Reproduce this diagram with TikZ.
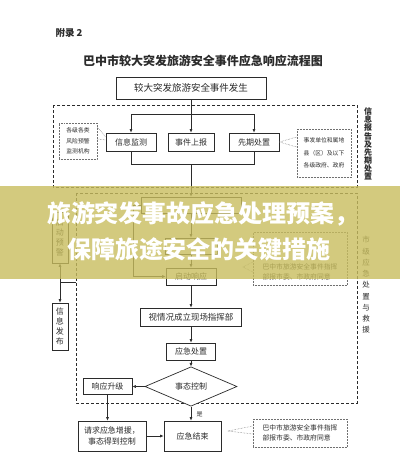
\documentclass[tikz,border=0pt]{standalone}
\usepackage{fontspec}
\setmainfont{Noto Sans CJK SC}
\usetikzlibrary{arrows.meta,positioning,shapes.geometric}
\definecolor{FlowInk}{HTML}{2B2B2B}
\definecolor{FlowGrey}{HTML}{707070}
\definecolor{BannerGold}{HTML}{C8BD5E}

\begin{document}
\begin{tikzpicture}[x=1pt, y=-1pt, font=\fontsize{8}{9.5}\selectfont,
  stepbox/.style={draw=FlowInk, line width=0.7pt, fill=white, inner sep=0pt, align=center, text=FlowInk},
  phase/.style={draw=FlowInk, line width=0.6pt, dash pattern=on 3pt off 2pt},
  memo/.style={draw=FlowGrey, line width=0.5pt, densely dotted, align=left, text=FlowInk, inner sep=0pt, font=\fontsize{6.8}{10}\selectfont},
  memolink/.style={draw=FlowGrey, line width=0.5pt, densely dotted},
  flow/.style={-{Latex[length=3.5pt,width=3pt]}, line width=0.6pt, draw=FlowInk},
  link/.style={line width=0.6pt, draw=FlowInk},
  side/.style={align=center, text=FlowInk, inner sep=0pt}]
\fill[white] (0,0) rectangle (400,464);
\useasboundingbox (0,0) rectangle (400,464);

% heading
\node[anchor=west, text=FlowInk, font=\fontsize{9.5}{10}\selectfont\bfseries] (annex) at (52,33) {附录 2};
\node[text=FlowInk, font=\fontsize{12}{14}\selectfont\bfseries] (title) at (203,61) {巴中市较大突发旅游安全事件应急响应流程图};
\node[stepbox, minimum width=150pt, minimum height=22pt, font=\fontsize{9.5}{10}\selectfont] (occur) at (191,88) {较大突发旅游安全事件发生};

% information report and first response
\draw[phase] (53,105) rectangle (357,187);
\node[stepbox, minimum width=50pt, minimum height=18pt] (monitor) at (131,142) {信息监测};
\node[stepbox, minimum width=46pt, minimum height=18pt] (report) at (191,142) {事件上报};
\node[stepbox, minimum width=50pt, minimum height=18pt] (early) at (254,142) {先期处置};
\coordinate (split) at (191,114);
\coordinate (merge) at (191,164);
\draw[flow] (occur) -- (report);
\draw[flow] (split) -| (monitor);
\draw[flow] (split) -| (early);
\draw[link] (monitor) |- (merge);
\draw[link] (early) |- (merge);
\node[memo, align=center, minimum width=38pt, minimum height=36pt, font=\fontsize{5.8}{10.5}\selectfont] (watchers) at (78,141) {各级各类\\风险预警\\监测机构};
\draw[memolink] ([yshift=14pt]watchers.east) -- ([yshift=5pt]monitor.west);
\draw[memolink] ([yshift=2pt]watchers.east) -- ([yshift=2pt]monitor.west);
\node[memo, minimum width=54pt, minimum height=48pt, font=\fontsize{5.8}{12.5}\selectfont] (localgov) at (324,153) {事发单位和属地\\县（区）及以下\\各级政府、政府};
\draw[memolink] (early.east) -- ([yshift=16pt]localgov.west);
\draw[memolink] (early.east) -- ([yshift=6pt]localgov.west);
\node[side, font=\fontsize{8}{8.1}\selectfont\bfseries] (sideinfo) at (368,144) {信\\息\\报\\告\\及\\先\\期\\处\\置};

% city level response
\draw[phase] (76,193) rectangle (357,403);
\node[side, font=\fontsize{7.5}{11.25}\selectfont] (sidecity) at (366,285) {市\\级\\应\\急\\处\\置\\与\\救\\援};
\node[stepbox, minimum width=100pt, minimum height=16pt] (assess) at (191,205) {};
\node[stepbox, minimum width=52pt, minimum height=16pt] (decide) at (191,246) {};
\node[stepbox, minimum width=50pt, minimum height=17pt] (launch) at (191,276.5) {启动响应};
\coordinate (bypass) at (133,276.5);
\draw[flow] (merge) -- (assess);
\draw[flow] (assess) -- (decide);
\draw[flow] (decide) -- (launch);
\draw[flow] (assess.west) -| (bypass) -- (launch.west);
\node[stepbox, minimum width=16pt, minimum height=51pt, font=\fontsize{8}{10}\selectfont] (prewarn) at (60,237.5) {启\\动\\预\\警};
\node[stepbox, minimum width=16pt, minimum height=47pt, font=\fontsize{8}{10}\selectfont] (publish) at (60,326.5) {信\\息\\发\\布};
\coordinate (tap) at (60,282);
\coordinate (zonegate) at (76,282);
\draw[{Latex[length=3.5pt,width=3pt]}-{Latex[length=3.5pt,width=3pt]}, link] (prewarn) -- (publish);
\draw[link] (zonegate) -- (tap);
\node[memo, minimum width=94pt, minimum height=53pt] (cmdbox) at (300,258.5) {};
\node[align=left, text=FlowInk, inner sep=0pt, font=\fontsize{6.8}{10}\selectfont] (cmdtext) at (300,272) {巴中市旅游安全事件指挥\\部报市委、市政府同意};
\coordinate (cmdtip) at (243,267);
\draw[memolink] (cmdtip) -- ([yshift=-3.5pt]cmdbox.west);
\draw[memolink] (cmdtip) -- ([yshift=-13.5pt]cmdbox.west);
\node[stepbox, minimum width=101pt, minimum height=18pt, font=\fontsize{8.5}{10}\selectfont] (sitehq) at (191,317) {视情况成立现场指挥部};
\node[stepbox, minimum width=49pt, minimum height=17pt] (handle) at (191,351.5) {应急处置};
\node[stepbox, diamond, minimum width=92pt, minimum height=27pt] (control) at (191,386.5) {事态控制};
\node[stepbox, minimum width=49pt, minimum height=16pt] (escalate) at (107.5,386.5) {响应升级};
\draw[flow] (launch) -- (sitehq);
\draw[flow] (sitehq) -- (handle);
\draw[flow] (handle) -- (control);
\draw[flow] (control.west) -- (escalate.east);

% closing
\node[stepbox, minimum width=68pt, minimum height=30pt, font=\fontsize{8}{11}\selectfont] (request) at (112,436) {请求应急增援，\\事态得到控制};
\node[stepbox, minimum width=57pt, minimum height=30pt] (finish) at (192.5,436) {应急结束};
\draw[flow] (escalate.south) -- (escalate.south |- request.north);
\draw[flow] (request) -- (finish);
\draw[flow] (control.south) -- (control.south |- finish.north) node[pos=0.55, right=2pt, text=FlowInk, font=\fontsize{6}{6}\selectfont] (yes) {是};
\node[memo, minimum width=94pt, minimum height=28pt] (closenote) at (300,433) {巴中市旅游安全事件指挥\\部报市委、市政府同意};
\coordinate (closetip) at (228,431);
\draw[memolink] (closetip) -- ([yshift=7pt]closenote.west);
\draw[memolink] (closetip) -- ([yshift=-1pt]closenote.west);

% banner
\fill[BannerGold, opacity=0.8] (0,186) rectangle (400,279);
\node[text=white, font=\fontsize{24}{24}\selectfont\bfseries] (bannerA) at (203,214) {旅游突发事故应急处理预案，};
\node[text=white, font=\fontsize{24}{24}\selectfont\bfseries] (bannerB) at (199,249) {保障旅途安全的关键措施};
\end{tikzpicture}
\end{document}
